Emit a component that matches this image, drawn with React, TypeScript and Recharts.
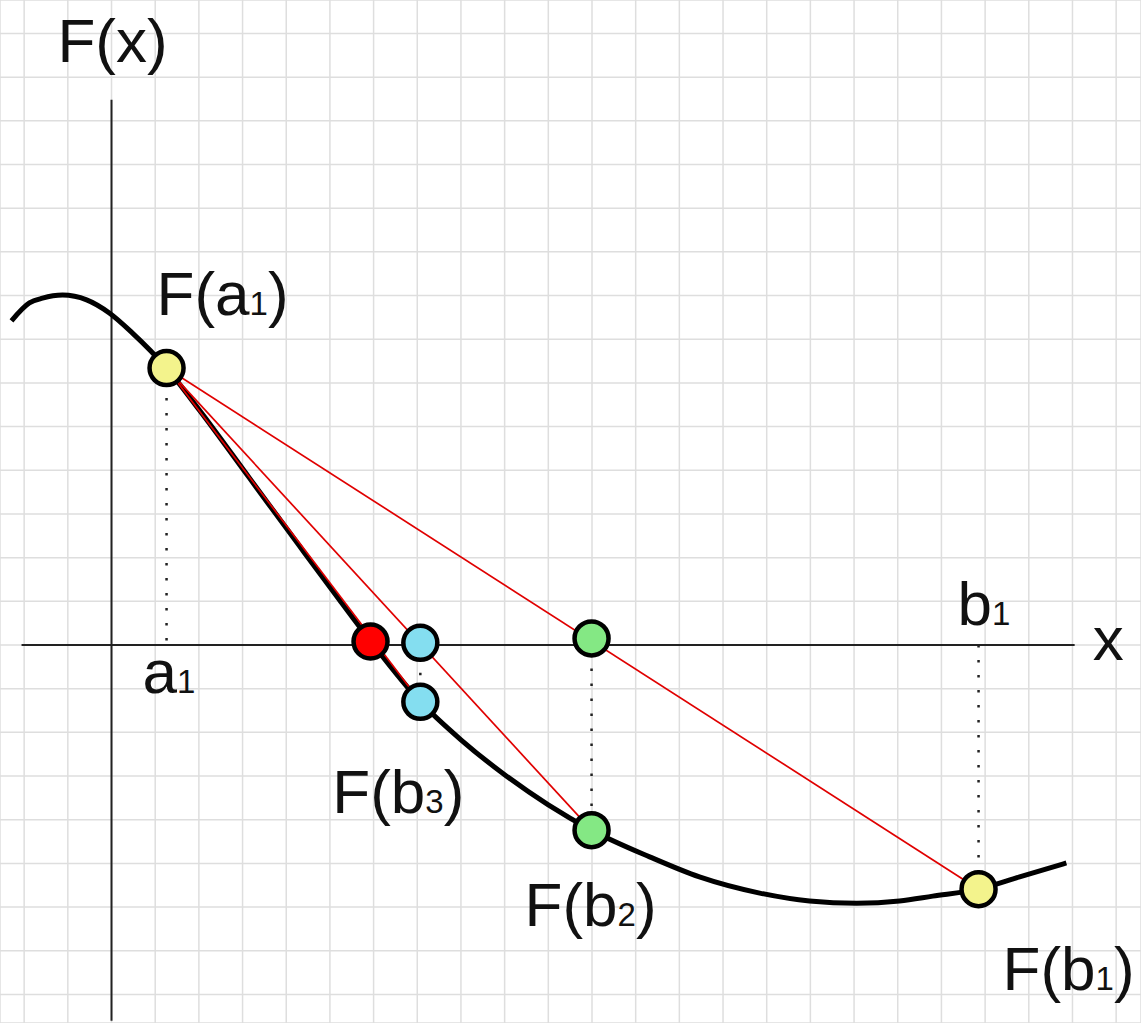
import React from 'react';
import {
  ComposedChart,
  Line,
  Scatter,
  XAxis,
  YAxis,
  CartesianGrid,
  ReferenceDot,
} from 'recharts';

// curve F(x) in grid units
const curveX = [-2.29, -1.88, -1.58, -1.12, -0.57, -0.05, 0.48, 1.26, 2.01, 3.16, 4.3, 5.22, 5.93, 7.07, 8.0, 9.0, 10.0, 10.99, 12.32, 13.46, 14.84, 15.98, 17.06, 18.04, 18.8, 19.85, 20.79, 21.86];
const curveY = [7.42, 7.83, 7.94, 8.01, 7.9, 7.6, 7.14, 6.34, 5.38, 3.82, 2.27, 1.03, 0.09, -1.3, -2.17, -2.97, -3.66, -4.24, -4.85, -5.31, -5.68, -5.86, -5.91, -5.86, -5.75, -5.59, -5.31, -4.99];

// iteration points: a1, b1, b2, b3
const pointNames = ['a1', 'b1', 'b2', 'b3'];
const pointX = [1.26, 19.85, 10.99, 7.07];
const pointF = [6.34, -5.59, -4.24, -1.3];

// where each chord meets the x axis (b2, b3, root)
const crossX = [10.99, 7.07, 5.93];
const crossY = [0.15, 0.05, 0.08];

// axes extent and grid ticks
const xAxisExtent = [-2.06, 22.05];
const yAxisExtent = [-8.6, 12.48];
const gridX = [-2, -1, 0, 1, 2, 3, 4, 5, 6, 7, 8, 9, 10, 11, 12, 13, 14, 15, 16, 17, 18, 19, 20, 21, 22, 23];
const gridY = [-8, -7, -6, -5, -4, -3, -2, -1, 0, 1, 2, 3, 4, 5, 6, 7, 8, 9, 10, 11, 12, 13, 14];

const curve = curveX.map((x, i) => ({ x, y: curveY[i] }));
const pt = (name: string) => {
  const i = pointNames.indexOf(name);
  return { x: pointX[i], y: pointF[i] };
};

const FONT = '"Liberation Sans", Arial, sans-serif';

const Lbl = (props: any) => {
  const { viewBox, dx, dy, pre, sub, post } = props;
  const x = viewBox.x + viewBox.width / 2 + dx;
  const y = viewBox.y + viewBox.height / 2 + dy;
  return (
    <text x={x} y={y} fontFamily={FONT} fontSize={62} fill="#111">
      <tspan>{pre}</tspan>
      {sub ? <tspan fontSize={33}>{sub}</tspan> : null}
      {post ? <tspan>{post}</tspan> : null}
    </text>
  );
};

const dotShape = (fill: string) => (props: any) => (
  <circle cx={props.cx} cy={props.cy} r={17} fill={fill} stroke="#000" strokeWidth={4.5} />
);

export default function App() {
  const a = pt('a1');
  const b1 = pt('b1');
  const b2 = pt('b2');
  const b3 = pt('b3');

  const chords = [b1, b2, b3].map(b => [a, b]);
  const dotted = [
    [a, { x: a.x, y: 0 }],
    [{ x: b1.x, y: 0 }, b1],
    [{ x: crossX[0], y: crossY[0] }, b2],
    [{ x: crossX[1], y: crossY[1] }, b3],
  ];

  return (
    <div style={{ position: 'absolute', left: 0, top: 0, background: '#fff' }}>
      <ComposedChart width={1141} height={1023} margin={{ top: 0, right: 0, bottom: 0, left: 0 }}>
        <CartesianGrid stroke="#dedede" strokeWidth={1.5} />
        <XAxis type="number" dataKey="x" domain={[-2.553, 23.569]} ticks={gridX} hide allowDataOverflow />
        <YAxis type="number" dataKey="y" domain={[-8.654, 14.766]} ticks={gridY} hide allowDataOverflow />

        {/* axes */}
        <Line data={[{ x: xAxisExtent[0], y: 0 }, { x: xAxisExtent[1], y: 0 }]} dataKey="y" stroke="#222" strokeWidth={2} dot={false} activeDot={false} isAnimationActive={false} />
        <Line data={[{ x: 0, y: yAxisExtent[0] }, { x: 0, y: yAxisExtent[1] }]} dataKey="y" stroke="#222" strokeWidth={2} dot={false} activeDot={false} isAnimationActive={false} />

        {dotted.map((d, i) => (
          <Line key={'d' + i} data={d} dataKey="y" stroke="#222" strokeWidth={2.5} strokeDasharray="2.5 12.5" dot={false} activeDot={false} isAnimationActive={false} />
        ))}

        <Line data={curve} dataKey="y" type="monotone" stroke="#000" strokeWidth={5} dot={false} activeDot={false} isAnimationActive={false} />

        {chords.map((c, i) => (
          <Line key={'c' + i} data={c} dataKey="y" stroke="#e00000" strokeWidth={1.7} dot={false} activeDot={false} isAnimationActive={false} />
        ))}

        <Scatter data={[a, b1]} dataKey="y" shape={dotShape('#f3f38c')} isAnimationActive={false} />
        <Scatter data={[{ x: crossX[0], y: crossY[0] }, b2]} dataKey="y" shape={dotShape('#84e884')} isAnimationActive={false} />
        <Scatter data={[{ x: crossX[1], y: crossY[1] }, b3]} dataKey="y" shape={dotShape('#84def0')} isAnimationActive={false} />
        <Scatter data={[{ x: crossX[2], y: crossY[2] }]} dataKey="y" shape={dotShape('#ff0000')} isAnimationActive={false} />

        {/* labels */}
        <ReferenceDot x={0} y={yAxisExtent[1]} r={0} stroke="none" label={<Lbl dx={-54} dy={-38} pre="F(x)" />} />
        <ReferenceDot x={a.x} y={a.y} r={0} stroke="none" label={<Lbl dx={-10} dy={-53} pre="F(a" sub="1" post=")" />} />
        <ReferenceDot x={a.x} y={0} r={0} stroke="none" label={<Lbl dx={-24} dy={48} pre="a" sub="1" />} />
        <ReferenceDot x={b1.x} y={0} r={0} stroke="none" label={<Lbl dx={-21} dy={-20} pre="b" sub="1" />} />
        <ReferenceDot x={xAxisExtent[1]} y={0} r={0} stroke="none" label={<Lbl dx={18} dy={15} pre="x" />} />
        <ReferenceDot x={b3.x} y={b3.y} r={0} stroke="none" label={<Lbl dx={-88} dy={111} pre="F(b" sub="3" post=")" />} />
        <ReferenceDot x={b2.x} y={b2.y} r={0} stroke="none" label={<Lbl dx={-67} dy={96} pre="F(b" sub="2" post=")" />} />
        <ReferenceDot x={b1.x} y={b1.y} r={0} stroke="none" label={<Lbl dx={24} dy={101} pre="F(b" sub="1" post=")" />} />
      </ComposedChart>
    </div>
  );
}
